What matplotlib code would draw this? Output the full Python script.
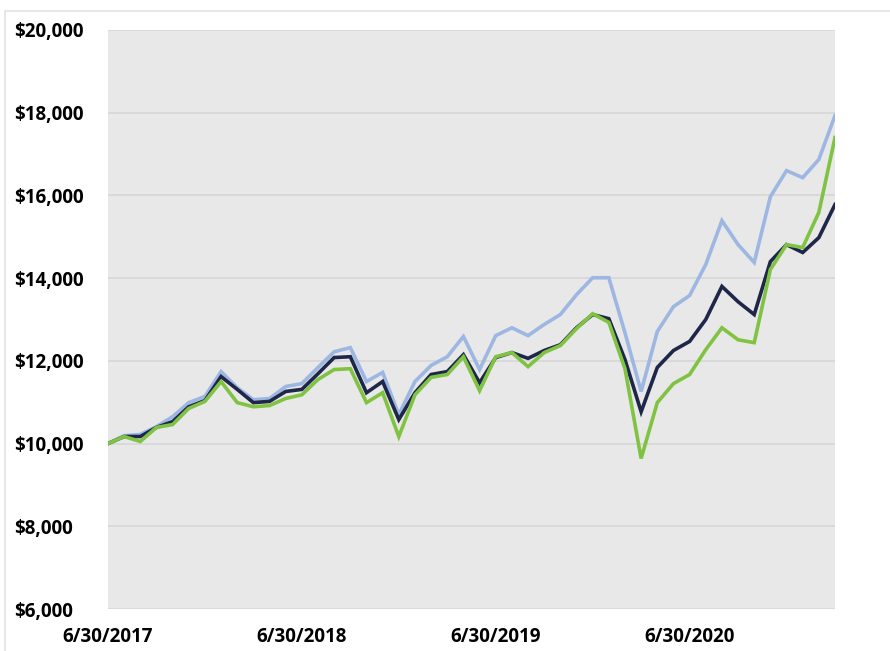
import matplotlib
matplotlib.use('Agg')
import matplotlib.pyplot as plt
from matplotlib.patches import Rectangle
import numpy as np

# month-end values of a hypothetical $10,000 investment, 6/30/2017 .. 3/31/2021
months = np.arange(46)
tick_pos = [0, 12, 24, 36]
tick_labels = ['6/30/2017', '6/30/2018', '6/30/2019', '6/30/2020']

blue_vals = [10000, 10190, 10220, 10410, 10650, 10990, 11140, 11740, 11350, 11060,
             11090, 11380, 11450, 11840, 12220, 12320, 11500, 11720, 10700, 11500,
             11890, 12100, 12590, 11790, 12610, 12800, 12610, 12880, 13120, 13600,
             14010, 14010, 12680, 11260, 12710, 13310, 13580, 14330, 15390, 14810,
             14380, 15970, 16600, 16430, 16870, 17930]

navy_vals = [10000, 10170, 10170, 10390, 10530, 10890, 11040, 11620, 11310, 10990,
             11020, 11260, 11310, 11690, 12080, 12100, 11230, 11500, 10580, 11230,
             11670, 11740, 12150, 11470, 12080, 12200, 12060, 12250, 12390, 12800,
             13120, 13020, 12030, 10770, 11840, 12250, 12470, 13000, 13800, 13430,
             13120, 14400, 14810, 14620, 14980, 15780]

green_vals = [10000, 10170, 10050, 10390, 10460, 10850, 11020, 11500, 10990, 10890,
              10920, 11090, 11180, 11550, 11790, 11810, 10990, 11230, 10170, 11180,
              11600, 11670, 12100, 11280, 12100, 12200, 11860, 12200, 12370, 12780,
              13140, 12930, 11810, 9640, 10990, 11450, 11670, 12270, 12800, 12510,
              12440, 14210, 14810, 14740, 15590, 17400]

plt.rcParams['font.family'] = ['Open Sans', 'DejaVu Sans']

fig = plt.figure(figsize=(8.9, 6.51), dpi=100)
# thin light frame around the chart
fig.patches.append(Rectangle((5 / 890, -0.1), 1.2, 1 - 11 / 651 + 0.1,
                             transform=fig.transFigure, fill=False,
                             edgecolor='#E3E3E3', linewidth=1.2))

ax = fig.add_axes([108 / 890, 1 - 609 / 651, (835 - 108) / 890, (609 - 30) / 651])
ax.set_facecolor('#E8E8E8')

ax.plot(months, blue_vals, color='#9DB7E2', lw=2.6, solid_joinstyle='miter')
ax.plot(months, navy_vals, color='#1E2649', lw=2.6, solid_joinstyle='miter')
ax.plot(months, green_vals, color='#80C342', lw=2.6, solid_joinstyle='miter')

ax.set_xlim(0, 45)
ax.set_ylim(6000, 20000)
ax.set_yticks(range(6000, 20001, 2000))
ax.set_yticklabels(['${:,}'.format(v) for v in range(6000, 20001, 2000)])
ax.set_xticks(tick_pos)
ax.set_xticklabels(tick_labels)

ax.grid(axis='y', color='#D6D6D6', linewidth=1.2)
ax.set_axisbelow(True)
for s in ax.spines.values():
    s.set_visible(False)

ax.tick_params(axis='both', length=0, labelsize=13.5)
ax.tick_params(axis='y', pad=67.5)
ax.tick_params(axis='x', pad=13)
for lab in ax.get_yticklabels():
    lab.set_horizontalalignment('left')
    lab.set_fontweight('bold')
for lab in ax.get_xticklabels():
    lab.set_fontweight('bold')

fig.savefig('out.png', dpi=100)
